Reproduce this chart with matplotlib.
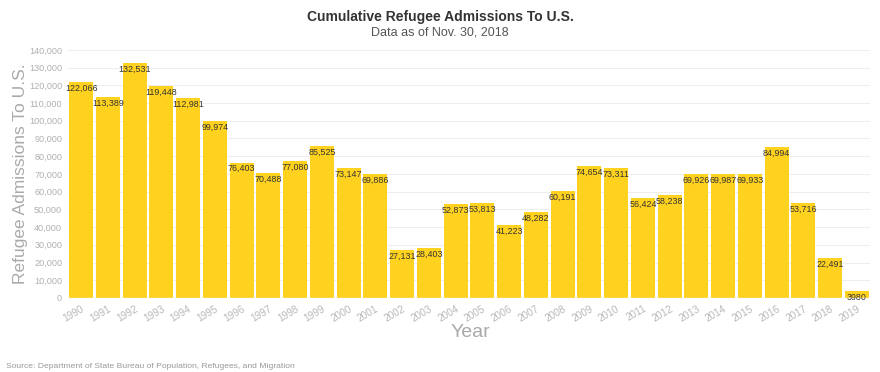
import matplotlib
matplotlib.use("Agg")
import matplotlib.pyplot as plt

# ---------- data ----------
years = [str(y) for y in range(1990, 2020)]
admissions = [122066, 113389, 132531, 119448, 112981, 99974, 76403, 70488, 77080, 85525,
              73147, 69886, 27131, 28403, 52873, 53813, 41223, 48282, 60191, 74654,
              73311, 56424, 58238, 69926, 69987, 69933, 84994, 53716, 22491, 3980]
bar_labels = ["122,066", "113,389", "132,531", "119,448", "112,981", "99,974", "76,403",
              "70,488", "77,080", "85,525", "73,147", "69,886", "27,131", "28,403",
              "52,873", "53,813", "41,223", "48,282", "60,191", "74,654", "73,311",
              "56,424", "58,238", "69,926", "69,987", "69,933", "84,994", "53,716",
              "22,491", "3980"]
yticks = list(range(0, 140001, 10000))

plt.rcParams["font.family"] = ["Liberation Sans", "DejaVu Sans"]

fig = plt.figure(figsize=(8.8, 3.72), dpi=100)
ax = fig.add_axes([0.077, 0.199, 0.912, 0.667])

x = list(range(len(years)))
ax.bar(x, admissions, width=0.9, color="#FFD21F", zorder=2)
for xi, v, lab in zip(x, admissions, bar_labels):
    ax.annotate(lab, (xi, v), xytext=(0, -4.5), textcoords="offset points",
                ha="center", va="center", fontsize=6.4, color="#333333", zorder=3)

ax.set_xlim(-0.5, len(years) - 0.5)
ax.set_ylim(0, 140000)
ax.set_yticks(yticks)
ax.set_yticklabels([f"{t:,}" for t in yticks], fontsize=6.6, color="#b0b0b0")
ax.set_xticks(x)
ax.set_xticklabels(years, rotation=30, ha="right", rotation_mode="anchor",
                   fontsize=7.2, color="#b8b8b8")
ax.tick_params(axis="y", length=0, pad=4)
ax.tick_params(axis="x", length=0, pad=4)
ax.grid(axis="y", color="#eeeeee", linewidth=0.8, zorder=0)
for s in ax.spines.values():
    s.set_visible(False)
ax.axhline(0, color="#e6e6e6", linewidth=1, zorder=3)

ax.set_ylabel("Refugee Admissions To U.S.", fontsize=12.5, color="#aaaaaa")
ax.yaxis.set_label_coords(-0.049, 0.5)
fig.text(0.534, 0.105, "Year", fontsize=14, color="#aaaaaa", ha="center", va="center")

fig.text(0.5, 0.955, "Cumulative Refugee Admissions To U.S.", fontsize=10, fontweight="bold",
         color="#333333", ha="center", va="center")
fig.text(0.5, 0.913, "Data as of Nov. 30, 2018", fontsize=9, color="#555555",
         ha="center", va="center")
fig.text(0.007, 0.016, "Source: Department of State Bureau of Population, Refugees, and Migration",
         fontsize=6.1, color="#999999", ha="left", va="center")

fig.savefig("out.png", dpi=100)
